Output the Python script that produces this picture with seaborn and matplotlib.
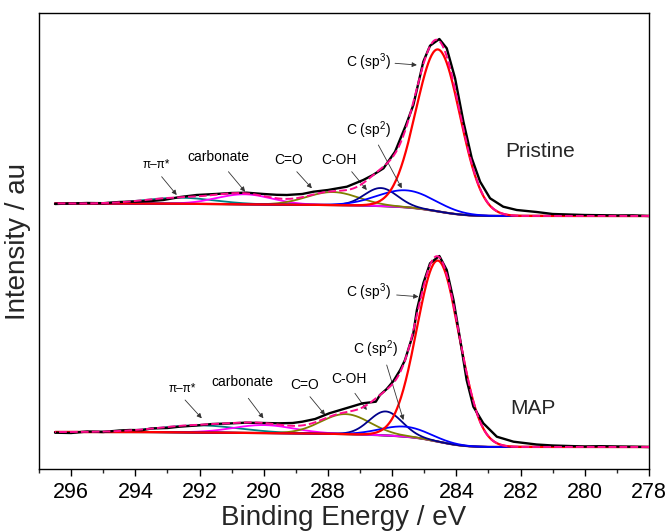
import numpy as np
import pandas as pd
import matplotlib
matplotlib.use("Agg")
import matplotlib.pyplot as plt
from matplotlib.ticker import MultipleLocator
import seaborn as sns

# ---------------- data ----------------
# measured C1s spectra (binding energy in eV, intensity in arbitrary units)
energy_pristine = [296.5, 296.0, 295.5, 295.0, 294.5, 294.17, 293.8, 293.5, 293.13, 292.6,
                   292.09, 291.5, 291.0, 290.53, 290.0, 289.6, 289.28, 288.8, 288.45, 288.0,
                   287.41, 286.9, 286.6, 286.27, 285.91, 285.57, 285.34, 285.03, 284.82, 284.53,
                   284.3, 284.04, 283.78, 283.52, 283.26, 282.95, 282.54, 282.12, 281.5, 281.0,
                   280.5, 280.0, 279.5, 279.0, 278.5, 278.0]
intensity_pristine = [265.0, 265.5, 266.0, 265.8, 267.0, 267.3, 267.6, 268.0, 269.0, 272.0,
                      274.0, 275.0, 276.0, 276.3, 275.0, 274.2, 274.0, 275.0, 277.3, 279.0,
                      282.3, 289.0, 294.0, 300.7, 317.3, 344.0, 364.0, 407.3, 423.3, 430.0,
                      420.7, 390.7, 347.3, 310.7, 287.3, 270.7, 262.3, 259.0, 257.0, 255.0,
                      254.5, 254.0, 253.8, 253.5, 253.6, 253.0]

energy_map = [296.5, 296.0, 295.5, 295.0, 294.5, 294.17, 293.8, 293.5, 293.0, 292.63,
              292.1, 291.6, 291.1, 290.57, 290.0, 289.53, 289.1, 288.8, 288.4, 287.96,
              287.44, 286.92, 286.51, 286.38, 286.17, 285.96, 285.75, 285.6, 285.34, 285.23,
              285.03, 284.82, 284.53, 284.3, 284.09, 283.88, 283.68, 283.47, 283.16, 282.74,
              282.22, 281.5, 281.0, 280.5, 280.0, 279.5, 279.0, 278.5, 278.0]
intensity_map = [36.3, 36.0, 37.5, 37.0, 38.5, 39.0, 38.8, 40.5, 41.0, 42.3,
                 43.5, 45.0, 45.5, 46.3, 46.0, 45.7, 46.0, 47.3, 50.0, 55.7,
                 60.7, 65.7, 67.3, 74.0, 80.0, 88.0, 99.0, 109.0, 135.7, 159.0,
                 185.7, 205.7, 213.0, 199.0, 169.0, 129.0, 89.0, 62.3, 45.7, 32.3,
                 27.3, 24.5, 23.5, 23.0, 22.5, 22.8, 22.5, 22.3, 22.0]

# fitted components: centre (eV), FWHM (eV), height (au)
component_names = ["C (sp3)", "C (sp2)", "C-OH", "C=O", "carbonate", "pi-pi*"]
pristine_center = [284.57, 285.55, 286.35, 287.85, 290.6, 292.6]
pristine_fwhm = [1.62, 2.1, 1.2, 1.9, 2.0, 2.5]
pristine_height = [162, 17, 18, 13, 10, 6]
pristine_bg_high = 265.5
pristine_bg_low = 253.0

map_center = [284.57, 285.6, 286.2, 287.45, 290.0, 292.0]
map_fwhm = [1.55, 1.8, 1.2, 1.8, 2.2, 3.0]
map_height = [181, 10, 24, 20, 8, 7]
map_bg_high = 37.0
map_bg_low = 22.0

tick_values = [296, 294, 292, 290, 288, 286, 284, 282, 280, 278]
# -------------------------------------------------------------

comp_colors = ["#ff0000", "#0000ff", "#00008b", "#808000", "#ff00ff", "#008080"]
bg_color = "#800000"
env_color = "#ff0a8c"

sns.set_style("ticks")
plt.rcParams["font.family"] = ["Liberation Sans", "DejaVu Sans"]
plt.rcParams["mathtext.fontset"] = "custom"
plt.rcParams["mathtext.rm"] = "Liberation Sans"
plt.rcParams["mathtext.it"] = "Liberation Sans:italic"
plt.rcParams["mathtext.bf"] = "Liberation Sans:bold"

fig = plt.figure(figsize=(6.68, 5.31), dpi=100)
ax = fig.add_axes([39 / 668, 1 - 469 / 531, 610 / 668, 456 / 531])

grid = np.linspace(278.0, 296.5, 741)


def draw_fit(centers, fwhms, heights, bg_high, bg_low, energy, intensity):
    peaks = []
    for c, w, h in zip(centers, fwhms, heights):
        s = w / 2.3548
        peaks.append(h * np.exp(-((grid - c) ** 2) / (2 * s * s)))
    total = np.sum(peaks, axis=0)
    cum = np.cumsum(total)
    bg = bg_low + (bg_high - bg_low) * cum / cum[-1]
    sns.lineplot(x=grid, y=bg, ax=ax, color=bg_color, lw=1.6, estimator=None, zorder=2)
    for p, col in list(zip(peaks, comp_colors))[::-1]:
        lw = 1.6 if col == "#ff0000" else 1.3
        sns.lineplot(x=grid, y=bg + p, ax=ax, color=col, lw=lw, estimator=None, zorder=3)
    sns.lineplot(x=energy, y=intensity, ax=ax, color="black", lw=1.7,
                 estimator=None, sort=False, zorder=4)
    sns.lineplot(x=grid, y=bg + total, ax=ax, color=env_color, lw=1.4,
                 estimator=None, zorder=5, linestyle=(0, (4, 1.6)))


draw_fit(pristine_center, pristine_fwhm, pristine_height, pristine_bg_high, pristine_bg_low,
         energy_pristine, intensity_pristine)
draw_fit(map_center, map_fwhm, map_height, map_bg_high, map_bg_low,
         energy_map, intensity_map)

ax.set_xlim(297, 278)
ax.set_ylim(0, 456)
ax.set_xticks(tick_values)
ax.set_xticklabels([str(t) for t in tick_values])
ax.xaxis.set_minor_locator(MultipleLocator(1))
ax.set_yticks([])
ax.tick_params(axis="x", which="major", direction="out", length=5, width=1,
               labelsize=15.5, pad=4, colors="black")
ax.tick_params(axis="x", which="minor", direction="out", length=3, width=1)
for sp in ax.spines.values():
    sp.set_visible(True)
    sp.set_color("black")
    sp.set_linewidth(1.0)

ax.set_xlabel("Binding Energy / eV", fontsize=20, labelpad=2)
ax.set_ylabel("Intensity / au", fontsize=20, labelpad=6)

# annotations: (text, text position, arrow tail, arrow tip, fontsize)
labels = [
    ("C (sp$^3$)", (286.75, 407), (285.91, 405.7), (285.23, 404), 10),
    ("C (sp$^2$)", (286.75, 339), (286.43, 324), (285.70, 280.7), 10),
    ("C-OH", (287.65, 309), (287.26, 297.3), (286.79, 279), 10),
    ("C=O", (289.21, 309), (288.97, 297.3), (288.50, 280.7), 10),
    ("carbonate", (291.41, 312), (291.10, 297.3), (290.58, 277.3), 10),
    ("π–π*", (293.36, 304), (293.18, 292.3), (292.71, 274), 8.5),
    ("C (sp$^3$)", (286.75, 177), (285.86, 174), (285.18, 172.3), 10),
    ("C (sp$^2$)", (286.53, 120), (286.17, 104), (285.65, 49), 10),
    ("C-OH", (287.36, 90), (287.16, 75.7), (286.79, 59), 10),
    ("C=O", (288.74, 84), (288.56, 72.3), (288.09, 54), 10),
    ("carbonate", (290.68, 87.3), (290.48, 70.7), (290.01, 50.7), 10),
    ("π–π*", (292.55, 80), (292.45, 69), (291.93, 50.7), 8.5),
]
for txt, pos, tail, tip, fs in labels:
    ax.text(pos[0], pos[1], txt, fontsize=fs, ha="center", va="center", color="black")
    ax.annotate("", xy=tip, xytext=tail,
                arrowprops=dict(arrowstyle="-|>", color="#333333", lw=0.6,
                                mutation_scale=7, shrinkA=0, shrinkB=0))

ax.text(281.39, 317.3, "Pristine", fontsize=15, ha="center", va="center")
ax.text(281.61, 60, "MAP", fontsize=15, ha="center", va="center")

fig.savefig("out.png", dpi=100)
